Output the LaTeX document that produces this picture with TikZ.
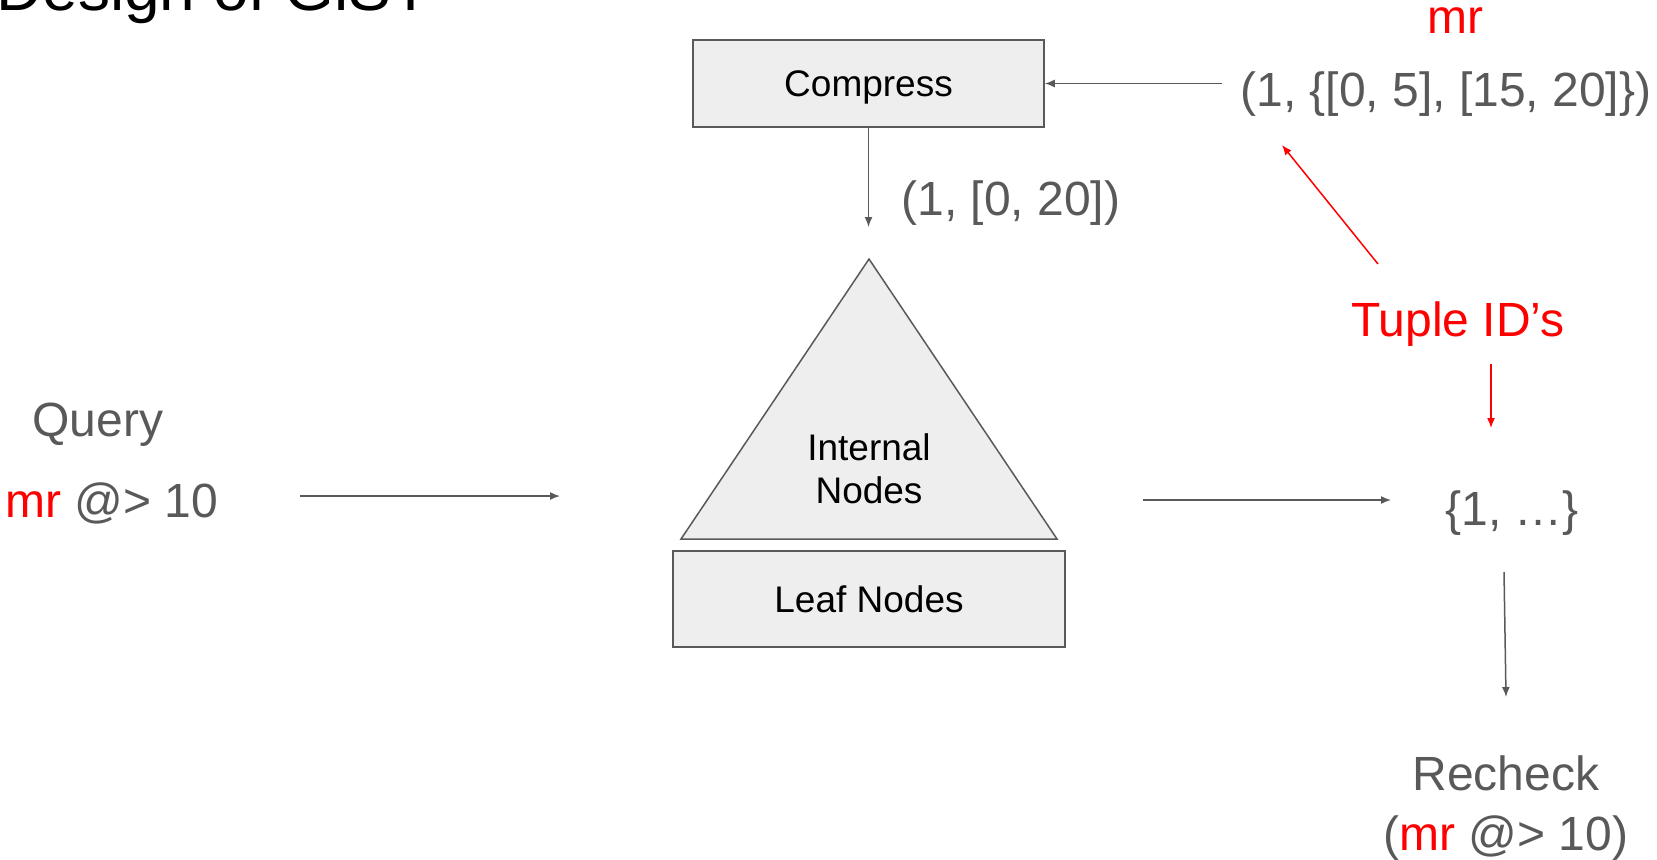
\documentclass[tikz,border=0pt]{standalone}
\usepackage{fontspec}
\setmainfont{Liberation Sans}
\usetikzlibrary{arrows.meta}
\definecolor{dg}{HTML}{595959}
\definecolor{boxfill}{HTML}{EEEEEE}
\definecolor{rd}{HTML}{FF0000}
\begin{document}
\begin{tikzpicture}[x=0.5pt,y=-0.5pt,
  conn/.style={draw=dg, line width=0.75pt, -{Latex[length=5pt,width=4pt]}},
  redconn/.style={draw=rd, line width=0.75pt, -{Latex[length=5pt,width=4pt]}},
  box/.style={draw=dg, fill=boxfill, line width=0.75pt, inner sep=0pt, font=\fontsize{18.5}{21.5}\selectfont},
  lbl/.style={text=dg, font=\fontsize{24}{29.5}\selectfont, inner sep=0pt, yshift=-1.8pt},
  redlbl/.style={text=rd, font=\fontsize{24}{29.5}\selectfont, inner sep=0pt, yshift=-1.8pt},
  tri/.style={draw=dg, fill=boxfill, line width=0.75pt, line join=miter}
]
\useasboundingbox (0,0) rectangle (1657,859);
\clip (0,0) rectangle (1657,859);

% title (cut off at top)
\node[anchor=base west, inner sep=0pt, font=\fontsize{32}{38}\selectfont] (title) at (-4,10) {Design of GiST};

% compress box
\node[box, text depth=0pt, minimum width=175.5pt, minimum height=43.5pt] (comp) at (868.5,83.5) {Compress};

% triangle of internal nodes
\coordinate (tl) at (681,539);
\coordinate (ta) at (869,259);
\coordinate (tr) at (1057,539);
\draw[tri] (tl) -- (ta) -- (tr) -- cycle;
\node[align=center, inner sep=0pt, font=\fontsize{18.5}{21.5}\selectfont] (internal) at (869,469) {Internal\\Nodes};

% leaf box
\node[box, minimum width=196pt, minimum height=48pt] (leaf) at (869,599) {Leaf Nodes};

% left query text
\node[lbl, anchor=west] (query) at (32,421) {Query};
\node[lbl, anchor=west] (qexpr) at (5,500) {\textcolor{rd}{mr} @> 10};

% top right
\node[redlbl, yshift=0.8pt] (mrtop) at (1455,19) {mr};
\node[lbl, anchor=west] (tuple) at (1240,90) {(1, \{[0, 5], [15, 20]\})};
\node[lbl, anchor=west] (compout) at (901,199) {(1, [0, 20])};

% right side
\node[redlbl, yshift=-0.7pt] (tids) at (1458,319) {Tuple ID’s};
\node[lbl] (res) at (1512,509) {\{1, …\}};
\node[lbl, align=center, yshift=-1.1pt, font=\fontsize{24}{30}\selectfont] (recheck) at (1506,802) {Recheck\\(\textcolor{rd}{mr} @> 10)};

% connector ends
\coordinate (qs) at (300,496);
\coordinate (qe) at (560,496);
\coordinate (ts) at (1222,83.5);
\coordinate (ce) at (868.5,227);
\coordinate (rs) at (1143,500);
\coordinate (re) at (1391,500);
\coordinate (ds) at (1504,572);
\coordinate (de) at (1506,697);
\coordinate (r1s) at (1378,264);
\coordinate (r1e) at (1282,145);
\coordinate (r2s) at (1491,364);
\coordinate (r2e) at (1491,428);

\draw[conn] (qs) -- (qe);
\draw[conn] (ts) -- (comp.east);
\draw[conn] (comp.south) -- (ce);
\draw[conn] (rs) -- (re);
\draw[conn] (ds) -- (de);
\draw[redconn] (r1s) -- (r1e);
\draw[redconn] (r2s) -- (r2e);
\end{tikzpicture}
\end{document}
